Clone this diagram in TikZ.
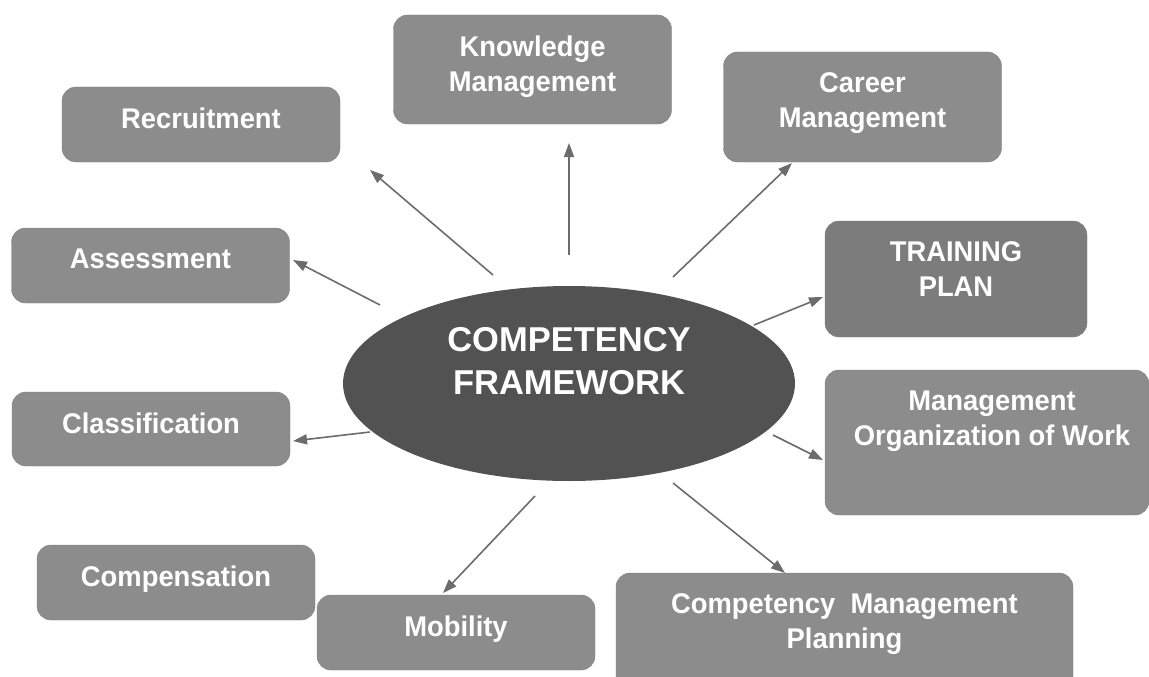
\documentclass[tikz,border=0pt]{standalone}
\usepackage{fontspec}
\setmainfont{Liberation Sans}
\newfontfamily\boxfont{Liberation Sans}[FakeStretch=0.96]
\usepackage{tikz}
\usetikzlibrary{positioning,shapes.geometric,arrows.meta}

\definecolor{boxgray}{RGB}{140,140,140}
\definecolor{darkbox}{RGB}{124,124,124}
\definecolor{coregray}{RGB}{82,82,82}
\definecolor{arrowgray}{RGB}{108,108,108}

\begin{document}
\begin{tikzpicture}[x=1pt, y=-1pt,
  % common options for the boxes:
  box/.style = {draw=boxgray!92!black, fill=boxgray, rounded corners=14pt,
              inner sep=0, minimum width=278pt},
  % text sits near the top of a box:
  boxtext/.style = {text=white, align=center, inner sep=0, anchor=north,
              yshift=-21pt, font=\boxfont\bfseries\fontsize{28.5}{35}\selectfont},
  % the ellipse in the middle:
  core/.style = {ellipse, fill=coregray, inner sep=0,
              minimum width=452pt, minimum height=195pt},
  coretext/.style = {text=white, align=center, inner sep=0, anchor=north,
              yshift=-41pt, font=\bfseries\fontsize{34.5}{43}\selectfont},
  link/.style = {draw=arrowgray, line width=1.6pt,
              -{Triangle[length=14pt,width=10pt]}}
	]
  \useasboundingbox (0,0) rectangle (1149,677);

  \node[core, label={[coretext]north:COMPETENCY\\FRAMEWORK}] (cf) at (569,383.5) {};

  \node[box, minimum height=109pt, label={[boxtext]north:Knowledge\\Management}] (know) at (532.5,69.5) {};
  \node[box, minimum height=75pt, label={[boxtext]north:Recruitment}] (rec) at (201,124.5) {};
  \node[box, minimum height=110pt, label={[boxtext]north:Career\\Management}] (car) at (862.5,107) {};
  \node[box, minimum height=75pt, label={[boxtext]north:Assessment}] (ass) at (150.5,265.5) {};
  \node[box, fill=darkbox, minimum width=262pt, minimum height=116pt,
        label={[boxtext]north:TRAINING\\PLAN}] (plan) at (956,279) {};
  \node[box, minimum height=74pt, label={[boxtext]north:Classification}] (cls) at (151,429) {};
  \node[box, minimum width=324pt, minimum height=145pt,
        label={[boxtext, xshift=5pt]north:Management\\Organization of Work}] (work) at (987,442.5) {};
  \node[box, minimum height=75pt, label={[boxtext]north:Compensation}] (comp) at (176,582.5) {};
  \node[box, minimum height=75pt, label={[boxtext]north:Mobility}] (mob) at (456,632.5) {};
  \node[box, minimum width=457pt, minimum height=130pt,
        label={[boxtext]north:Competency~~Management\\Planning}] (cmp) at (844.5,638) {};

  % arrow tails near the ellipse, tips near the boxes
  \coordinate (rec-s) at (493,275);  \coordinate (rec-t) at (370,170);
  \coordinate (know-s) at (569,255); \coordinate (know-t) at (569,143);
  \coordinate (car-s) at (673,277);  \coordinate (car-t) at (792,163);
  \coordinate (ass-s) at (380,305);  \coordinate (ass-t) at (293,260);
  \coordinate (plan-s) at (754,325); \coordinate (plan-t) at (823,297);
  \coordinate (cls-s) at (370,432);  \coordinate (cls-t) at (293,441);
  \coordinate (work-s) at (773,435); \coordinate (work-t) at (823,460);
  \coordinate (mob-s) at (535,496);  \coordinate (mob-t) at (443,593);
  \coordinate (cmp-s) at (673,483);  \coordinate (cmp-t) at (785,573);

  \draw[link] (rec-s) -- (rec-t);
  \draw[link] (know-s) -- (know-t);
  \draw[link] (car-s) -- (car-t);
  \draw[link] (ass-s) -- (ass-t);
  \draw[link] (plan-s) -- (plan-t);
  \draw[link] (cls-s) -- (cls-t);
  \draw[link] (work-s) -- (work-t);
  \draw[link] (mob-s) -- (mob-t);
  \draw[link] (cmp-s) -- (cmp-t);
\end{tikzpicture}
\end{document}
